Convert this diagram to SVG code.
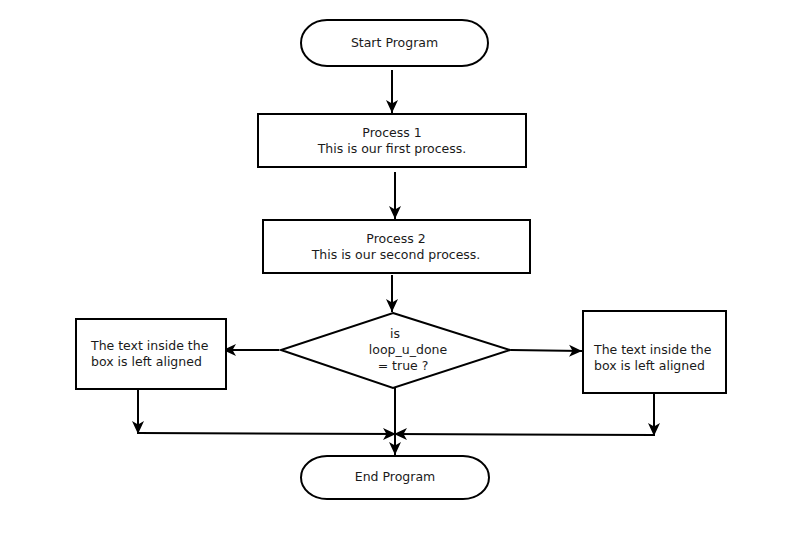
<svg xmlns="http://www.w3.org/2000/svg" width="799" height="537" viewBox="0 0 799 537">
<defs>
<marker id="ah" markerUnits="userSpaceOnUse" markerWidth="14" markerHeight="14" viewBox="0 0 14 14" refX="13" refY="7" orient="auto">
<path d="M0,1 L13,7 L0,13 L3.5,7 Z" fill="#000"/>
</marker>
<style>
.shape{fill:#fff;stroke:#000;stroke-width:2}
.t{font-family:"DejaVu Sans",sans-serif;font-size:12.5px;fill:#1a1a1a}
.c{text-anchor:middle}
.ln{fill:none;stroke:#000;stroke-width:2}
.ar{marker-end:url(#ah)}
</style>
</defs>
<rect width="799" height="537" fill="#fff"/>
<g id="connectors">
<path class="ln ar" d="M392,70 L392,113"/>
<path class="ln ar" d="M395,172 L395,219"/>
<path class="ln ar" d="M392,275 L392,312"/>
<path class="ln ar" d="M279,350 L223,350"/>
<path class="ln ar" d="M511,350 L582,351"/>
<path class="ln ar" d="M138,389 L138,434"/>
<path class="ln ar" d="M138,433 L396,434"/>
<path class="ln ar" d="M654,393 L654,436"/>
<path class="ln ar" d="M654,435 L394,434"/>
<path class="ln ar" d="M395,388 L395,455"/>
</g>
<g id="start">
<rect class="shape" x="301" y="20" width="187" height="46" rx="26" ry="23"/>
<text class="t c" x="394.5" y="47">Start Program</text>
</g>
<g id="process1">
<rect class="shape" x="258" y="114" width="268" height="53"/>
<text class="t c" x="392" y="137">Process 1</text>
<text class="t c" x="392" y="153">This is our first process.</text>
</g>
<g id="process2">
<rect class="shape" x="263" y="220" width="267" height="53"/>
<text class="t c" x="396" y="243">Process 2</text>
<text class="t c" x="396" y="259">This is our second process.</text>
</g>
<g id="decision">
<path class="shape" d="M393,313 L510,350 L393,388 L281,350 Z"/>
<text class="t c" x="395" y="338">is</text>
<text class="t c" x="408" y="354">loop_u_done</text>
<text class="t c" x="403" y="370">= true ?</text>
</g>
<g id="leftbox">
<rect class="shape" x="76" y="319" width="150" height="70"/>
<text class="t" x="91" y="350">The text inside the</text>
<text class="t" x="91" y="366">box is left aligned</text>
</g>
<g id="rightbox">
<rect class="shape" x="583" y="311" width="143" height="82"/>
<text class="t" x="594" y="354">The text inside the</text>
<text class="t" x="594" y="370">box is left aligned</text>
</g>
<g id="end">
<rect class="shape" x="301" y="456" width="188" height="43" rx="26" ry="21.5"/>
<text class="t c" x="395" y="481">End Program</text>
</g>
</svg>
